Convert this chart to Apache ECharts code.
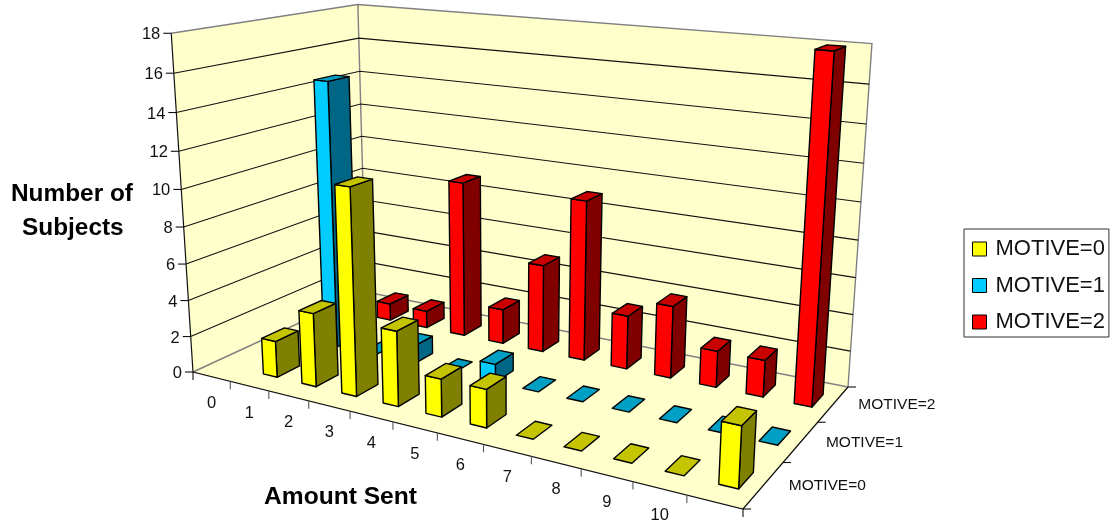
<!DOCTYPE html>
<html>
<head>
<meta charset="utf-8">
<style>html,body{margin:0;padding:0;background:#fff}#chart{width:1118px;height:530px}</style>
<script src="https://cdn.jsdelivr.net/npm/echarts@6/dist/echarts.min.js"></script>
</head>
<body>
<div id="chart"></div>
<script>
// Subjects per amount sent, one list per motive group.
const amounts = ['0','1','2','3','4','5','6','7','8','9','10'];
const motives = ['MOTIVE=0','MOTIVE=1','MOTIVE=2'];
const motive0 = [2,4,11,4,2,2,0,0,0,0,3];
const motive1 = [15,0,1,0,1,0,0,0,0,0,0];
const motive2 = [1,1,9,2,5,9,3,4,2,2,18];
const valueTicks = [0,2,4,6,8,10,12,14,16,18];

// Box corners on screen: floor, then wall tops.
const FLOOR = [[193,372],[743,509],[848,387],[366,292]];
const TOPS = [[0,0,[171,35]],[0,1,[358,6]],[1,1,[872,40]]];

// Perspective matrix: floor homography plus a vertical column fitted to the wall tops.
function buildProjection() {
  const [[x0,y0],[x1,y1],[x2,y2],[x3,y3]] = FLOOR;
  const dx1=x1-x2, dx2=x3-x2, sx=x0-x1+x2-x3, dy1=y1-y2, dy2=y3-y2, sy=y0-y1+y2-y3;
  const den=dx1*dy2-dx2*dy1;
  const g=(sx*dy2-dx2*sy)/den, h=(dx1*sy-sx*dy1)/den;
  const a=x1-x0+g*x1, b=x3-x0+h*x3, c=x0, d=y1-y0+g*y1, e=y3-y0+h*y3, f=y0;
  const rows=[];
  TOPS.forEach(([u,v,[X,Y]])=>{
    const w=g*u+h*v+1;
    rows.push([1,0,-X,X*w-(a*u+b*v+c)]);
    rows.push([0,1,-Y,Y*w-(d*u+e*v+f)]);
  });
  const M=[0,1,2].map(i=>[0,1,2,3].map(j=>rows.reduce((s,r)=>s+r[i]*r[j],0)));
  for(let i=0;i<3;i++){
    let p=i; for(let k=i+1;k<3;k++) if(Math.abs(M[k][i])>Math.abs(M[p][i])) p=k;
    [M[i],M[p]]=[M[p],M[i]];
    for(let k=0;k<3;k++){ if(k===i) continue; const m=M[k][i]/M[i][i]; for(let j=i;j<4;j++) M[k][j]-=m*M[i][j]; }
  }
  const r=M[0][3]/M[0][0], s=M[1][3]/M[1][1], t=M[2][3]/M[2][2];
  return (u,v,z)=>{
    const w=g*u+h*v+t*z+1;
    return [(a*u+b*v+r*z+c)/w,(d*u+e*v+s*z+f)/w];
  };
}
const project = buildProjection();

// Axis scales give the (band, value) position; the projection places it in the box.
function mapper(api){
  const W=api.getWidth(), H=api.getHeight();
  return (band,depth,value)=>{
    const p=api.coord([band,value]);
    return project(p[0]/W,depth,1-p[1]/H);
  };
}

const INK='#111', EDGE='#808080', WALL='#FFFFCC', FONT='"Liberation Sans", Arial, sans-serif';
const line=(pts,stroke,lw)=>({type:'polyline',shape:{points:pts},style:{stroke,lineWidth:lw||1,fill:null},silent:true});
const poly=(pts,fill,stroke,lw)=>({type:'polygon',shape:{points:pts},style:{fill,stroke:stroke||'none',lineWidth:lw||0,lineJoin:'round'},silent:true});
const label=(text,x,y,align,size)=>({type:'text',style:{text,x,y,align,verticalAlign:'middle',fill:'#111',fontSize:size,fontFamily:FONT},silent:true});

function renderWalls(params,api){
  const at=mapper(api);
  return {type:'group',children:[
    poly([at(-1,0,0),at(11,0,0),at(11,1,0),at(-1,1,0)],WALL),
    poly([at(-1,0,0),at(-1,1,0),at(-1,1,18),at(-1,0,18)],WALL),
    poly([at(-1,1,0),at(11,1,0),at(11,1,18),at(-1,1,18)],WALL),
    line([at(-1,0,18),at(-1,1,18),at(11,1,18),at(11,1,0)],EDGE,1.4),
    line([at(-1,1,18),at(-1,1,0)],EDGE,1.4),
    line([at(-1,0,0),at(-1,1,0),at(11,1,0)],EDGE,1.4)
  ]};
}
function renderGrid(params,api){
  const v=api.value(0), at=mapper(api), kids=[];
  if(v>0&&v<18) kids.push(line([at(-1,0,v),at(-1,1,v),at(11,1,v)],INK,1.1));
  const p=at(-1,0,v);
  kids.push(line([[p[0]-8,p[1]],p],INK,1.1));
  kids.push(label(String(v),p[0]-11,p[1]+1.5,'right',16.5));
  return {type:'group',children:kids};
}
function renderFrame(params,api){
  const at=mapper(api);
  return line([at(-1,0,18),at(-1,0,0),at(11,0,0),at(11,1,0)],INK,1.2);
}
function renderBandTick(params,api){
  const i=api.value(0), at=mapper(api), p=at(i,0,0);
  return line([p,[p[0],p[1]+8]],(i===-1||i===11)?INK:'#555',1.1);
}
function renderAmountLabel(params,api){
  const i=api.value(0), at=mapper(api), p=at(i-0.5,0,0);
  return label(amounts[i],p[0],p[1]+27,'center',16.5);
}
function renderMotiveAxis(params,api){
  const i=api.value(0), at=mapper(api), kids=[];
  const t=at(11,(i+1)/3,0);
  kids.push(line([t,[t[0]+8,t[1]]],INK,1.1));
  if(i===0){ const o=at(11,0,0); kids.push(line([o,[o[0]+8,o[1]]],INK,1.1)); }
  const c=at(11,(i+0.5)/3,0);
  kids.push(label(motives[i],c[0]+25,c[1]+1,'left',15.5));
  return {type:'group',children:kids};
}

const BAR_W=0.36, BAR_D=0.36;
function barRenderer(m,colors){
  return (params,api)=>{
    const i=api.value(0), v=api.value(1), at=mapper(api);
    const l=i+0.5-BAR_W/2, r=i+0.5+BAR_W/2;
    const f=(m+0.5-BAR_D/2)/3, b=(m+0.5+BAR_D/2)/3;
    const top=poly([at(l,f,v),at(r,f,v),at(r,b,v),at(l,b,v)],colors.top,'#000',1.4);
    if(v===0) return top;
    return {type:'group',children:[
      poly([at(r,f,0),at(r,b,0),at(r,b,v),at(r,f,v)],colors.side,'#000',1.4),
      poly([at(l,f,0),at(r,f,0),at(r,f,v),at(l,f,v)],colors.front,'#000',1.4),
      top
    ]};
  };
}
const palette=[
  {front:'#FFFF00',top:'#C4C400',side:'#808000'},
  {front:'#00CCFF',top:'#00A0C4',side:'#006685'},
  {front:'#FF0000',top:'#C80000',side:'#800000'}
];
const rows=[motive0,motive1,motive2];

const frameSeries=(render,data,z)=>({type:'custom',renderItem:render,data,z,silent:true,animation:false,legendHoverLink:false});
const barSeries=rows.map((vals,m)=>({
  name:motives[m],type:'custom',z:10+(2-m),animation:false,silent:true,
  itemStyle:{color:palette[m].front},
  renderItem:barRenderer(m,palette[m]),
  encode:{x:0,y:1},
  data:vals.map((v,i)=>[i,v])
}));

const chart=echarts.init(document.getElementById('chart'),null,{renderer:'canvas'});
chart.setOption({
  backgroundColor:'#fff',
  animation:false,
  grid:{left:0,right:0,top:0,bottom:0},
  xAxis:{type:'value',min:-1,max:11,show:false},
  yAxis:{type:'value',min:0,max:18,interval:2,show:false},
  legend:{
    left:964,top:229,orient:'vertical',padding:[9,4,4,8],itemGap:14.5,itemWidth:14,itemHeight:14,
    icon:'rect',selectedMode:false,data:motives,
    borderColor:'#333',borderWidth:1,
    itemStyle:{borderColor:'#000',borderWidth:1},
    textStyle:{fontFamily:FONT,fontSize:22,color:'#111',padding:[0,0,0,4]}
  },
  graphic:[
    {type:'text',left:11,top:182,style:{text:'Number of',fontFamily:FONT,fontWeight:'bold',fontSize:24.4,fill:'#000'}},
    {type:'text',left:22,top:216,style:{text:'Subjects',fontFamily:FONT,fontWeight:'bold',fontSize:24.4,fill:'#000'}},
    {type:'text',left:264,top:485,style:{text:'Amount Sent',fontFamily:FONT,fontWeight:'bold',fontSize:24.6,fill:'#000'}}
  ],
  series:[
    frameSeries(renderWalls,[[0]],1),
    frameSeries(renderGrid,valueTicks.map(v=>[v]),2),
    frameSeries(renderFrame,[[0]],3),
    frameSeries(renderBandTick,[-1,0,1,2,3,4,5,6,7,8,9,10,11].map(v=>[v]),3),
    frameSeries(renderAmountLabel,amounts.map((a,i)=>[i]),3),
    frameSeries(renderMotiveAxis,motives.map((a,i)=>[i]),3)
  ].concat(barSeries)
});
</script>
</body>
</html>
